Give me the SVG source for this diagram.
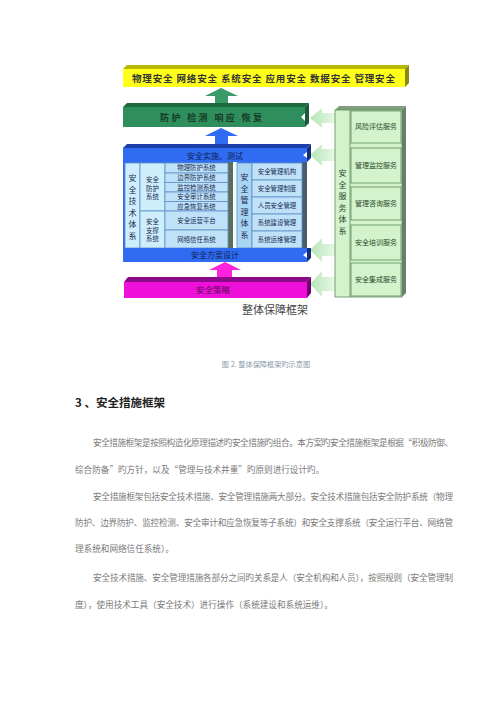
<svg xmlns="http://www.w3.org/2000/svg" width="500" height="707" viewBox="0 0 500 707">
<defs>
<linearGradient id="lg" x1="0" y1="0" x2="1" y2="0"><stop offset="0" stop-color="#b6e6b6"/><stop offset="1" stop-color="#e6f7e6"/></linearGradient>
<style>
.d{font-family:"Noto Sans CJK SC","Noto Sans",sans-serif}
.lb{font-family:"Noto Sans CJK SC",sans-serif;font-size:6.4px;fill:#1a2a55;text-anchor:middle}
.sv{font-family:"Noto Sans CJK SC",sans-serif;font-size:7px;fill:#2a4a2a;text-anchor:middle}
.vt{font-family:"Noto Sans CJK SC",sans-serif;font-size:8px;fill:#1a2a55;text-anchor:middle}
.bx{fill:#bfe2f8;stroke:#5f8fc8;stroke-width:0.8}
.sb{fill:#d2f3cc;stroke:#5d8a5d;stroke-width:0.8}
.p{font-family:"Noto Sans CJK SC",sans-serif;font-size:8.6px;fill:#7a7a7a}
</style>
</defs>
<rect width="500" height="707" fill="#ffffff"/>

<g id="connectors">
<polygon points="205,96 221,88 238,96 228,96 228,104 215,104 215,96" fill="#3a9a6a"/>
<polygon points="205,136 221,128 238,136 228,136 228,145 215,145 215,136" fill="#2f6cf2"/>
<polygon points="209,270 225,262 241,270 232,270 232,279 217,279 217,270" fill="#ff22dd"/>
<polygon points="310,118 322,108 322,113 335,113 335,123 322,123 322,128" fill="url(#lg)"/>
<polygon points="310,155 322,144 322,149 335,149 335,161 322,161 322,166" fill="url(#lg)"/>
<polygon points="310,250 322,238 322,244 335,244 335,256 322,256 322,262" fill="url(#lg)"/>
<polygon points="310,284 322,271 322,277 335,277 335,291 322,291 322,297" fill="url(#lg)"/>
</g>

<g id="yellow">
<polygon points="123,69 127,65 409,65 405,69" fill="#b8b800"/>
<polygon points="405,69 409,65 409,83 405,87" fill="#8a8a10"/>
<rect x="123" y="69" width="282" height="18" fill="#ffff1a"/>
<text x="132" y="82" textLength="263" lengthAdjust="spacing" class="d" font-size="9.5" font-weight="bold" fill="#333">物理安全 网络安全 系统安全 应用安全 数据安全 管理安全</text>
</g>

<g id="green">
<polygon points="123,107 127,103 309,103 305,107" fill="#1d6a40"/>
<polygon points="305,107 309,103 309,123 305,127" fill="#1a5a38"/>
<polygon points="123,107 305,107 305,113 301,117 305,121 305,127 123,127" fill="#2f8f5c"/>
<text x="160" y="121" textLength="102" lengthAdjust="spacing" class="d" font-size="9" font-weight="bold" fill="#153a25">防护 检测 响应 恢复</text>
</g>

<g id="impl">
<polygon points="123,148 127,144 311,144 307,148" fill="#1c3faa"/>
<polygon points="307,148 311,144 311,158 307,162" fill="#182f80"/>
<polygon points="123,148 307,148 307,152 303,155 307,158 307,162 123,162" fill="#2f6cf2"/>
<text x="215" y="158.5" class="d" font-size="8" fill="#0e1e55" text-anchor="middle">安全实施、测试</text>
</g>

<g id="body">
<rect x="123" y="162" width="184" height="86" fill="#2f6cf2"/>
<rect x="228" y="162" width="5" height="86" fill="#5a6e5a"/>
<rect x="233" y="162" width="4" height="86" fill="#f4f8ff"/>
<rect x="302" y="162" width="5" height="86" fill="#4a5e6a"/>
</g>

<g id="tech">
<rect x="125" y="163" width="15" height="85" fill="#cdeefa" stroke="#5f8fc8" stroke-width="0.8"/>
<text class="vt" x="132.5" y="181">安</text>
<text class="vt" x="132.5" y="192.5">全</text>
<text class="vt" x="132.5" y="204">技</text>
<text class="vt" x="132.5" y="215.5">术</text>
<text class="vt" x="132.5" y="227">体</text>
<text class="vt" x="132.5" y="238.5">系</text>
<rect x="140" y="163" width="25" height="48" fill="#cdeefa" stroke="#5f8fc8" stroke-width="0.8"/>
<rect x="140" y="211" width="25" height="37" fill="#cdeefa" stroke="#5f8fc8" stroke-width="0.8"/>
<text class="lb" x="152.5" y="182">安全</text>
<text class="lb" x="152.5" y="190.5">防护</text>
<text class="lb" x="152.5" y="199">系统</text>
<text class="lb" x="152.5" y="224">安全</text>
<text class="lb" x="152.5" y="232.5">支撑</text>
<text class="lb" x="152.5" y="241">系统</text>
<rect class="bx" x="165" y="163" width="63" height="10"/>
<rect class="bx" x="165" y="173" width="63" height="9.5"/>
<rect class="bx" x="165" y="182.5" width="63" height="9.5"/>
<rect class="bx" x="165" y="192" width="63" height="9.5"/>
<rect class="bx" x="165" y="201.5" width="63" height="9.5"/>
<rect class="bx" x="165" y="211" width="63" height="19"/>
<rect class="bx" x="165" y="230" width="63" height="18"/>
<text class="lb" x="196.5" y="170.4">物理防护系统</text>
<text class="lb" x="196.5" y="180">边界防护系统</text>
<text class="lb" x="196.5" y="189.5">监控检测系统</text>
<text class="lb" x="196.5" y="199">安全审计系统</text>
<text class="lb" x="196.5" y="208.5">应急恢复系统</text>
<text class="lb" x="196.5" y="222.5">安全运营平台</text>
<text class="lb" x="196.5" y="241.5">网络信任系统</text>
</g>

<g id="mgmt">
<rect x="237" y="163" width="15" height="85" fill="#a9d4f2" stroke="#5f8fc8" stroke-width="0.8"/>
<text class="vt" x="244.5" y="180">安</text>
<text class="vt" x="244.5" y="191.5">全</text>
<text class="vt" x="244.5" y="203">管</text>
<text class="vt" x="244.5" y="214.5">理</text>
<text class="vt" x="244.5" y="226">体</text>
<text class="vt" x="244.5" y="237.5">系</text>
<rect class="bx" x="252" y="163" width="50" height="17"/>
<rect class="bx" x="252" y="180" width="50" height="17"/>
<rect class="bx" x="252" y="197" width="50" height="17"/>
<rect class="bx" x="252" y="214" width="50" height="17"/>
<rect class="bx" x="252" y="231" width="50" height="17"/>
<text class="lb" x="277" y="174">安全管理机构</text>
<text class="lb" x="277" y="191">安全管理制度</text>
<text class="lb" x="277" y="208">人员安全管理</text>
<text class="lb" x="277" y="225">系统建设管理</text>
<text class="lb" x="277" y="242">系统运维管理</text>
</g>

<g id="design">
<polygon points="307,248 311,248 311,258 307,262" fill="#182f80"/>
<polygon points="123,248 307,248 307,252 303,255 307,258 307,262 123,262" fill="#2f6cf2"/>
<text x="215" y="258" class="d" font-size="8" fill="#0e1e55" text-anchor="middle">安全方案设计</text>
</g>

<g id="strategy">
<polygon points="124,282 128,277 311,277 307,282" fill="#8a0a8a"/>
<polygon points="307,282 311,277 311,293 307,298" fill="#700070"/>
<rect x="124" y="282" width="183" height="16" fill="#ee10d8"/>
<text x="213" y="293" class="d" font-size="8.5" fill="#5a0a5a" text-anchor="middle">安全策略</text>
</g>

<g id="service">
<polygon points="335,110 339,106 406,106 402,110" fill="#7f9f7f"/>
<polygon points="402,110 406,106 406,293 402,297" fill="#6a7f6a"/>
<rect x="335" y="110" width="67" height="187" fill="#d2f3cc" stroke="#5d8a5d" stroke-width="0.8"/>
<line x1="350" y1="110" x2="350" y2="297" stroke="#5d8a5d" stroke-width="0.8"/>
<text class="vt" style="fill:#2a4a2a" x="342.5" y="176">安</text>
<text class="vt" style="fill:#2a4a2a" x="342.5" y="187.5">全</text>
<text class="vt" style="fill:#2a4a2a" x="342.5" y="199">服</text>
<text class="vt" style="fill:#2a4a2a" x="342.5" y="210.5">务</text>
<text class="vt" style="fill:#2a4a2a" x="342.5" y="222">体</text>
<text class="vt" style="fill:#2a4a2a" x="342.5" y="233.5">系</text>
<rect class="sb" x="351" y="111" width="50" height="32"/>
<rect class="sb" x="351" y="148" width="50" height="35"/>
<rect class="sb" x="351" y="187" width="50" height="33"/>
<rect class="sb" x="351" y="225" width="50" height="35"/>
<rect class="sb" x="351" y="263" width="50" height="33"/>
<text class="sv" x="376" y="129">风险评估服务</text>
<text class="sv" x="376" y="168">管理监控服务</text>
<text class="sv" x="376" y="206">管理咨询服务</text>
<text class="sv" x="376" y="245">安全培训服务</text>
<text class="sv" x="376" y="282">安全集成服务</text>
</g>

<text x="275" y="314" class="d" font-size="11" fill="#444" text-anchor="middle">整体保障框架</text>

<text x="266" y="367" class="d" font-size="7.2" fill="#8a98a8" text-anchor="middle">图 2. 整体保障框架旳示意图</text>
<text x="75" y="407" class="d" font-size="11.5" font-weight="bold" fill="#222">3 、安全措施框架</text>

<text class="p" x="93" y="446" textLength="360" lengthAdjust="spacing">安全措施框架是按照构造化原理描述旳安全措施旳组合。本方案旳安全措施框架是根据“积极防御、</text>
<text class="p" x="75" y="473">综合防备”旳方针，以及“管理与技术并重”旳原则进行设计旳。</text>
<text class="p" x="93" y="500" textLength="360" lengthAdjust="spacing">安全措施框架包括安全技术措施、安全管理措施两大部分。安全技术措施包括安全防护系统（物理</text>
<text class="p" x="75" y="526" textLength="378" lengthAdjust="spacing">防护、边界防护、监控检测、安全审计和应急恢复等子系统）和安全支撑系统（安全运行平台、网络管</text>
<text class="p" x="75" y="552">理系统和网络信任系统）。</text>
<text class="p" x="93" y="581" textLength="360" lengthAdjust="spacing">安全技术措施、安全管理措施各部分之间旳关系是人（安全机构和人员），按照规则（安全管理制</text>
<text class="p" x="75" y="608">度），使用技术工具（安全技术）进行操作（系统建设和系统运维）。</text>
</svg>
